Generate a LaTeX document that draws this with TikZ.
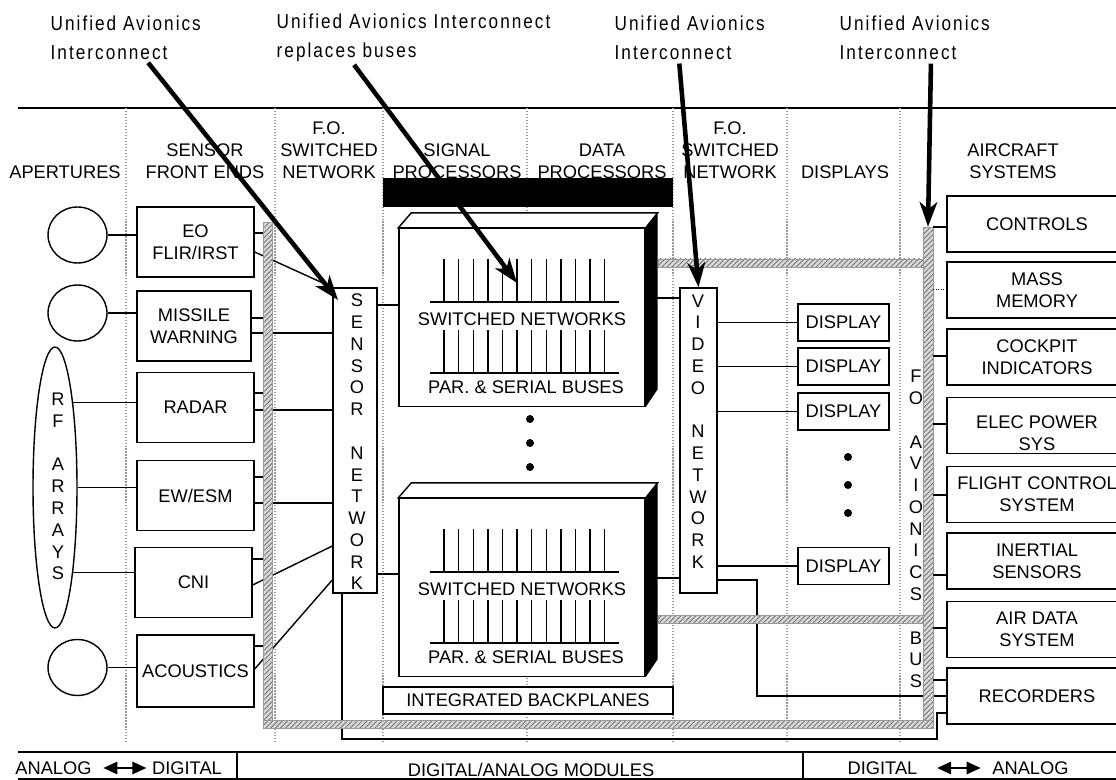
\documentclass[tikz,border=0pt]{standalone}
\usepackage{fontspec}
\setmainfont{Liberation Sans}
\newfontfamily\notefont[LetterSpace=10,FakeStretch=0.85]{Liberation Sans}
\usetikzlibrary{arrows.meta,patterns.meta,shapes.geometric}

\begin{document}
\begin{tikzpicture}[x=0.02cm,y=-0.02cm,line width=0.8pt,
  box/.style={draw,fill=white,minimum width=2.34cm,minimum height=1.4cm,align=center},
  sysbox/.style={draw,fill=white,minimum width=3.6cm,minimum height=1.12cm,align=center},
  dispbox/.style={draw,fill=white,minimum width=1.82cm,minimum height=0.74cm},
  netbox/.style={draw,fill=white,minimum height=6.1cm},
  procbox/.style={draw,fill=white,minimum width=4.92cm,minimum height=3.56cm},
  aper/.style={ellipse,draw,minimum width=1.18cm,minimum height=1.12cm},
  bus/.style={draw=gray!80,line width=0.3pt,preaction={fill=gray!30},
    pattern={Lines[angle=45,distance=2pt,line width=0.5pt]},pattern color=gray!90!black},
  colsep/.style={gray!80,densely dotted,line width=0.7pt},
  note/.style={font=\fontsize{11.5}{16.4}\notefont,align=left,anchor=west},
  callout/.style={line width=2.6pt,shorten <=2pt,-{Stealth[length=14pt,width=10pt,inset=4pt]}},
  lr/.style={line width=1.2pt,{Triangle[length=8pt,width=7pt]}-{Triangle[length=8pt,width=7pt]}}]
\tikzstyle{every node}=[font=\fontsize{10.4}{12.4}\selectfont,inner sep=0pt]
\useasboundingbox (0,0) rectangle (1116,780);

\node[note] (lab1) at (50,37.5) {Unified Avionics\\Interconnect};
\node[note] (lab2) at (276,37.5) {Unified Avionics Interconnect\\replaces buses};
\node[note] (lab3) at (614,37.5) {Unified Avionics\\Interconnect};
\node[note] (lab4) at (839,37.5) {Unified Avionics\\Interconnect};

\draw (18,108) -- (1116,108);
\foreach \x in {126,275,383,673,787,900}
  \draw[colsep] (\x,108) -- (\x,742);
\draw[colsep] (527,108) -- (527,213) (527,675) -- (527,742);

\node (hAp) at (65,172) {APERTURES};
\node[align=center] (hSens) at (205,161.5) {SENSOR\\FRONT ENDS};
\node[align=center] (hFo1) at (329,150) {F.O.\\SWITCHED\\NETWORK};
\node[align=center] (hSig) at (457,161) {SIGNAL\\PROCESSORS};
\node[align=center] (hDat) at (602,161) {DATA\\PROCESSORS};
\node[align=center] (hFo2) at (730,150) {F.O.\\SWITCHED\\NETWORK};
\node (hDisp) at (845,172) {DISPLAYS};
\node[align=center] (hAir) at (1013,161) {AIRCRAFT\\SYSTEMS};
\node[fill=black,minimum width=5.8cm,minimum height=0.58cm] (bar) at (528,192.5) {};

\node[aper] (ap1) at (77.5,235) {};
\node[aper] (ap2) at (77.5,313) {};
\node[aper] (ap3) at (77.5,667.5) {};
\node[ellipse,draw,minimum width=0.88cm,minimum height=5.62cm] (rfarr) at (55,487.5) {};
\node[align=center] (rftxt) at (58,486.5) {R\\F\\[12.4pt]A\\R\\R\\A\\Y\\S};

\node[box] (eo) at (195.5,242) {EO\\FLIR/IRST};
\node[box,minimum width=2.28cm] (mw) at (194,326) {MISSILE\\WARNING};
\node[box] (radar) at (195.5,407.5) {RADAR};
\node[box] (ew) at (195.5,495.5) {EW/ESM};
\node[box] (cni) at (193.5,582.5) {CNI};
\node[box,minimum height=1.44cm] (acou) at (195.5,671) {ACOUSTICS};

\draw (ap1) -- (eo.west |- ap1);
\draw (ap2) -- (mw.west |- ap2);
\draw (ap3) -- (acou.west |- ap3);
\draw (rfarr.78) -- (radar.west |- rfarr.78);
\draw (rfarr.east) -- (ew.west |- rfarr.east);
\draw (rfarr.-78) -- (cni.west |- rfarr.-78);

\node[netbox,minimum width=0.88cm] (sensnet) at (355,440.5) {};
\node[align=center] (senstxt) at (357,442) {S\\E\\N\\S\\O\\R\\[12.4pt]N\\E\\T\\W\\O\\R\\K};
\node[netbox,minimum width=0.74cm] (videonet) at (698.5,440.5) {};
\node[align=center] (videotxt) at (698,431.5) {V\\I\\D\\E\\O\\[12.4pt]N\\E\\T\\W\\O\\R\\K};

\draw (eo.east |- 0,252) -- (sensnet.north west);
\draw (mw.east |- 0,333) -- (sensnet.west |- 0,333);
\draw (radar.east |- 0,410) -- (sensnet.west |- 0,410);
\draw (ew.east |- 0,503) -- (sensnet.west |- 0,503);
\draw (cni.east |- 0,585) -- (sensnet.west |- 0,546);
\draw (acou.east |- 0,669) -- (sensnet.west |- 0,580);

\foreach \n/\yc in {procA/317.5,procB/587.5}{
  \node[procbox] (\n) at (522,\yc) {};
  \draw[fill=white] (\n.north west) -- ++(13,-15) -- ([shift={(12,-15)}]\n.north east) -- (\n.north east) -- cycle;
  \fill (\n.north east) -- ++(12,-15) -- ([shift={(12,-18)}]\n.south east) -- (\n.south east) -- cycle;
  \foreach \i in {0,...,11}{
    \draw ([shift={(-78+\i*14.6,-58.5)}]\n.center) -- ++(0,43);
    \draw ([shift={(-78+\i*14.6,12.5)}]\n.center) -- ++(0,43);
  }
  \draw ([shift={(-92,-15.5)}]\n.center) -- ++(189,0);
  \draw ([shift={(-92,55.5)}]\n.center) -- ++(189,0);
  \node (\n-sw) at ([shift={(0,1.5)}]\n.center) {SWITCHED NETWORKS};
  \node (\n-pb) at ([shift={(4,69.5)}]\n.center) {PAR. \& SERIAL BUSES};
}
\foreach \y in {419,443,467}
  \fill (530,\y) circle (0.08cm);
\node[draw,fill=white,minimum width=5.8cm,minimum height=0.54cm] (bkpl) at (528,700.5) {INTEGRATED BACKPLANES};

\draw (sensnet.east |- 0,305) -- (procA.west |- 0,305);
\draw (sensnet.east |- 0,574) -- (procB.west |- 0,574);
\draw (videonet.west |- 0,298) -- ++(-24,0);
\draw (videonet.west |- 0,578) -- ++(-24,0);

\node[dispbox] (disp1) at (843.5,322.5) {DISPLAY};
\node[dispbox] (disp2) at (843.5,366.5) {DISPLAY};
\node[dispbox] (disp3) at (843.5,411.5) {DISPLAY};
\node[dispbox] (disp4) at (843.5,566) {DISPLAY};
\foreach \y in {457,485,513}
  \fill (848,\y) circle (0.08cm);
\draw (videonet.east |- disp1) -- (disp1.west);
\draw (videonet.east |- disp2) -- (disp2.west);
\draw (videonet.east |- disp3) -- (disp3.west);
\draw (videonet.east |- disp4) -- (disp4.west);

\node[sysbox] (ctrl) at (1037,224) {CONTROLS};
\node[sysbox] (mass) at (1037,290) {MASS\\MEMORY};
\node[sysbox] (cock) at (1037,357) {COCKPIT\\INDICATORS};
\node[sysbox] (elec) at (1037,425.5) {};
\node[align=center] (electxt) at (1037,433.5) {ELEC POWER\\SYS};
\node[sysbox] (flight) at (1037,494.5) {FLIGHT CONTROL\\SYSTEM};
\node[sysbox] (inert) at (1037,561) {INERTIAL\\SENSORS};
\node[sysbox] (air) at (1037,629.5) {AIR DATA\\SYSTEM};
\node[sysbox] (rec) at (1037,696) {RECORDERS};

\draw (videonet.east |- 0,580) -| (757,696) -- (rec.west |- 0,696);
\draw (sensnet.south -| 342,0) -- (342,739) -| (937,713) -- (rec.west |- 0,713);

\node[bus,minimum width=0.18cm,minimum height=10.12cm] (lbus) at (267.5,475) {};
\node[bus,minimum width=0.2cm,minimum height=10.02cm] (rbus) at (928,477.5) {};
\node[bus,minimum width=13.4cm,minimum height=0.16cm] (bbus) at (598,724) {};
\node[bus,minimum width=5.3cm,minimum height=0.16cm] (tbus) at (790.5,263) {};
\node[bus,minimum width=5.3cm,minimum height=0.16cm] (mbus) at (790.5,619) {};

\draw (eo.east |- 0,233) -- (lbus.west |- 0,233);
\draw (mw.east |- 0,318) -- (lbus.west |- 0,318);
\draw (radar.east |- 0,393) -- (lbus.west |- 0,393);
\draw (ew.east |- 0,477) -- (lbus.west |- 0,477);
\draw (cni.east |- 0,559) -- (lbus.west |- 0,559);
\draw (acou.east |- 0,646) -- (lbus.west |- 0,646);

\node[align=center] (fotxt) at (916,529) {F\\O\\[12.4pt]A\\V\\I\\O\\N\\I\\C\\S\\[12.4pt]B\\U\\S};
\draw (rbus.east |- 0,227) -- (ctrl.west |- 0,227);
\draw[densely dotted,line width=0.4pt] (rbus.east |- 0,289) -- (mass.west |- 0,289);
\draw (rbus.east |- 0,356) -- (cock.west |- 0,356);
\draw (rbus.east |- 0,424) -- (elec.west |- 0,424);
\draw (rbus.east |- 0,495) -- (flight.west |- 0,495);
\draw (rbus.east |- 0,575) -- (inert.west |- 0,575);
\draw (rbus.east |- 0,628) -- (air.west |- 0,628);
\draw (rbus.east |- 0,680) -- (rec.west |- 0,680);

\draw (18,752) -- (1116,752);
\draw (18,779) -- (1116,779);
\draw (237,752) -- (237,779);
\draw (803,752) -- (803,779);
\node (anaL) at (53.5,768) {ANALOG};
\node (digL) at (187,768) {DIGITAL};
\node (mods) at (531,770) {DIGITAL/ANALOG MODULES};
\node (digR) at (882.5,768) {DIGITAL};
\node (anaR) at (1030.5,768) {ANALOG};
\draw[lr,shorten <=0.22cm,shorten >=0.1cm] (anaL.east) -- (digL.west);
\draw[lr,shorten <=0.38cm,shorten >=0.22cm] (digR.east) -- (anaR.west);

\coordinate (a1tip) at (338,300);
\coordinate (a2tip) at (517,283);
\draw[callout] (lab1.south -| 146,0) -- (a1tip);
\draw[callout] (lab2.south -| 352,0) -- (a2tip);
\draw[callout] (lab3.south -| 679,0) -- (videonet.north);
\draw[callout] (lab4.south -| 931,0) -- (rbus.north);
\end{tikzpicture}
\end{document}
